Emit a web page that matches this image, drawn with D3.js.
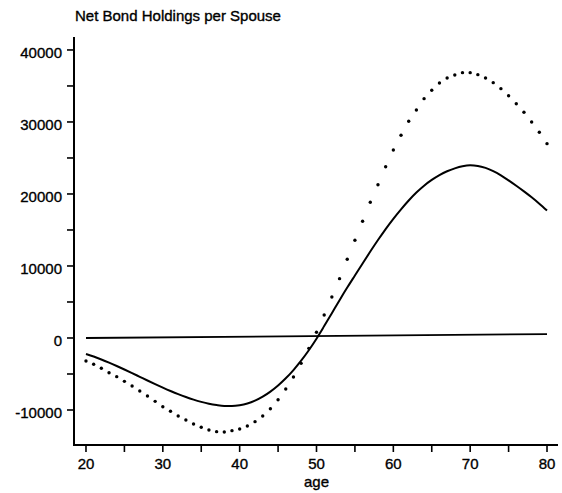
<!DOCTYPE html>
<html>
<head>
<meta charset="utf-8">
<script src="https://cdn.jsdelivr.net/npm/d3@7"></script>
<style>
  html, body { margin: 0; padding: 0; background: #fff; }
  svg { display: block; }
  text { font-family: Arial, "Liberation Sans", sans-serif; fill: #000; stroke: #000; stroke-width: 0.35px; }
</style>
</head>
<body>
<svg id="chart" width="562" height="493"></svg>
<script>
// Net bond holdings per spouse by age, three series
const ages = d3.range(20, 81);

// dotted series (one marker per year of age)
const dottedValues = [
  -3200, -3650, -4210, -4820, -5370, -6020, -6670, -7360, -8060, -8800,
  -9540, -10180, -10830, -11390, -11940, -12400, -12780, -13010, -13050, -12870,
  -12640, -12220, -11620, -10830, -9820, -8570, -7080, -5420, -3520, -1440,
  790, 3190, 5690, 8240, 10930, 13570, 16210, 18850, 21290, 23790,
  26110, 28150, 30100, 31670, 33240, 34400, 35420, 36110, 36530, 36850,
  36850, 36570, 36110, 35460, 34630, 33650, 32540, 31350, 30000, 28570,
  26990
];

// solid series
const solidValues = [
  -2220, -2580, -2980, -3420, -3890, -4380, -4880, -5390, -5900, -6400,
  -6890, -7360, -7800, -8200, -8560, -8870, -9130, -9320, -9440, -9450,
  -9340, -9100, -8700, -8150, -7450, -6600, -5600, -4450, -3150, -1700,
  -100, 1650, 3450, 5250, 7000, 8680, 10350, 12000, 13600, 15130,
  16550, 17870, 19100, 20200, 21150, 21950, 22620, 23160, 23560, 23850,
  23980, 23900, 23620, 23180, 22590, 21890, 21140, 20360, 19540, 18650,
  17700
];

// near-zero reference series
const baseAges = [20, 80];
const baseValues = [0, 550];

const yTickLabels = [-10000, 0, 10000, 20000, 30000, 40000];
const yMinorTicks = [-5000, 5000, 15000, 25000, 35000];
const xTickLabels = [20, 30, 40, 50, 60, 70, 80];
const xMinorTicks = [25, 35, 45, 55, 65, 75];

const titleText = "Net Bond Holdings per Spouse";
const xTitle = "age";

const svg = d3.select("#chart");

const x = d3.scaleLinear().domain([18.44, 81.43]).range([74, 558]);
const y = d3.scaleLinear().domain([-15000, 41800]).range([446, 37]);

const fontSize = 15;

// title
svg.append("text")
  .attr("x", 75).attr("y", 21)
  .attr("font-size", fontSize)
  .text(titleText);

// y axis
const yAxis = svg.append("g");
yAxis.append("line")
  .attr("x1", 74).attr("x2", 74)
  .attr("y1", y.range()[1]).attr("y2", y.range()[0])
  .attr("stroke", "#000").attr("stroke-width", 2);
yAxis.selectAll("line.tick")
  .data(yTickLabels.concat(yMinorTicks))
  .join("line").attr("class", "tick")
  .attr("x1", 67).attr("x2", 74)
  .attr("y1", d => y(d)).attr("y2", d => y(d))
  .attr("stroke", "#000").attr("stroke-width", 1.6);
yAxis.selectAll("text")
  .data(yTickLabels)
  .join("text")
  .attr("x", 62).attr("y", d => y(d) + 8)
  .attr("text-anchor", "end")
  .attr("font-size", fontSize)
  .text(d => d);

// x axis
const xAxis = svg.append("g");
xAxis.append("line")
  .attr("x1", 73).attr("x2", 558)
  .attr("y1", 445).attr("y2", 445)
  .attr("stroke", "#000").attr("stroke-width", 2);
xAxis.selectAll("line.tick")
  .data(xTickLabels.concat(xMinorTicks))
  .join("line").attr("class", "tick")
  .attr("x1", d => x(d)).attr("x2", d => x(d))
  .attr("y1", 445).attr("y2", 452)
  .attr("stroke", "#000").attr("stroke-width", 1.6);
xAxis.selectAll("text")
  .data(xTickLabels)
  .join("text")
  .attr("x", d => x(d)).attr("y", 469)
  .attr("text-anchor", "middle")
  .attr("font-size", fontSize)
  .text(d => d);
svg.append("text")
  .attr("x", x(50)).attr("y", 487)
  .attr("text-anchor", "middle")
  .attr("font-size", fontSize)
  .text(xTitle);

// series
const line = d3.line().x(d => x(d[0])).y(d => y(d[1])).curve(d3.curveMonotoneX);

svg.append("path")
  .datum(baseAges.map((a, i) => [a, baseValues[i]]))
  .attr("d", d3.line().x(d => x(d[0])).y(d => y(d[1])))
  .attr("fill", "none").attr("stroke", "#000").attr("stroke-width", 1.8);

svg.append("path")
  .datum(ages.map((a, i) => [a, solidValues[i]]))
  .attr("d", line)
  .attr("fill", "none").attr("stroke", "#000").attr("stroke-width", 2);

svg.append("g").selectAll("circle")
  .data(ages.map((a, i) => [a, dottedValues[i]]))
  .join("circle")
  .attr("cx", d => x(d[0])).attr("cy", d => y(d[1]))
  .attr("r", 1.7).attr("fill", "#000");
</script>
</body>
</html>
